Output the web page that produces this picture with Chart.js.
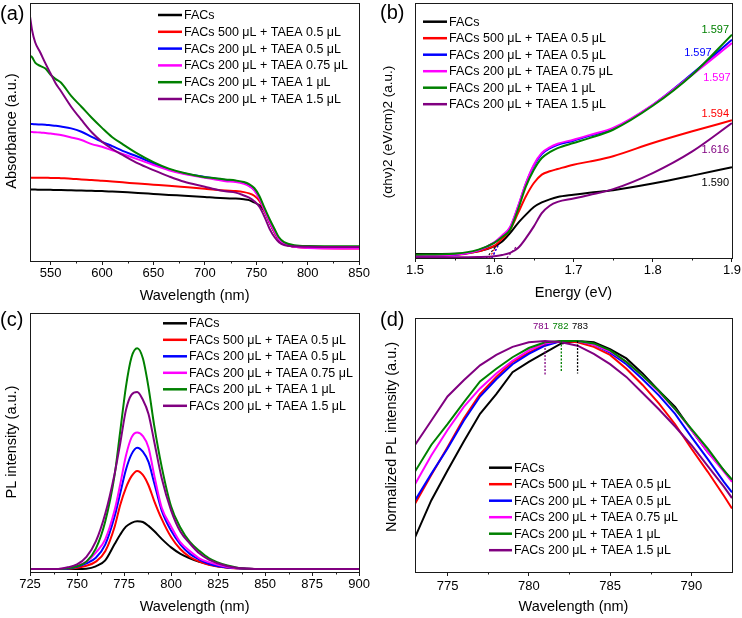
<!DOCTYPE html>
<html>
<head>
<meta charset="utf-8">
<script src="https://cdn.jsdelivr.net/npm/chart.js@4.4.1/dist/chart.umd.min.js"></script>
<style>
  body { margin: 0; background: #fff; }
  #fig { position: relative; width: 742px; height: 618px; }
  #fig canvas { position: absolute; }
</style>
</head>
<body>
<div id="fig">
  <canvas id="pa" width="371" height="309" style="left:0;top:0"></canvas>
  <canvas id="pb" width="371" height="309" style="left:371px;top:0"></canvas>
  <canvas id="pc" width="371" height="309" style="left:0;top:309px"></canvas>
  <canvas id="pd" width="371" height="309" style="left:371px;top:309px"></canvas>
</div>
<script>
// ---- series names and colours ----
const seriesNames = ['FACs', 'FACs 500 μL + TAEA 0.5 μL', 'FACs 200 μL + TAEA 0.5 μL',
  'FACs 200 μL + TAEA 0.75 μL', 'FACs 200 μL + TAEA 1 μL', 'FACs 200 μL + TAEA 1.5 μL'];
const seriesColors = ['#000000', '#ff0000', '#0000ff', '#ff00ff', '#008000', '#800080'];

// ---- (a) absorbance ----
const absWl = [530, 532, 535, 540, 545, 550, 555, 560, 570, 580, 590, 600, 610, 620, 635, 650, 665, 680, 700, 710, 720, 730, 738, 743, 748, 753, 758, 763, 768, 772, 777, 787, 800, 850];
const absFACs   = [27.7, 27.7, 27.7, 27.6, 27.6, 27.6, 27.5, 27.5, 27.4, 27.3, 27.2, 27.1, 26.9, 26.7, 26.4, 26.0, 25.6, 25.3, 24.8, 24.5, 24.3, 24.2, 23.9, 23.6, 22.7, 21.6, 19.3, 14.8, 10.9, 8.3, 6.6, 5.6, 5.4, 5.3];
const abs500_05 = [32.3, 32.3, 32.3, 32.3, 32.3, 32.2, 32.2, 32.1, 31.9, 31.6, 31.4, 31.1, 30.8, 30.5, 30.0, 29.6, 29.2, 28.7, 28.0, 27.6, 27.3, 27.1, 26.7, 26.2, 25.3, 23.3, 19.4, 15.0, 11.0, 8.3, 6.6, 5.5, 5.1, 4.8];
const abs200_05 = [53.1, 53.1, 53.0, 52.9, 52.8, 52.6, 52.4, 52.1, 51.4, 50.1, 48.1, 46.2, 44.5, 42.7, 40.4, 37.8, 35.5, 33.9, 32.6, 32.0, 31.4, 30.9, 30.2, 29.2, 27.6, 24.4, 20.0, 15.5, 11.6, 8.6, 6.8, 5.7, 5.4, 5.2];
const abs200_075 = [50.0, 50.0, 49.9, 49.8, 49.6, 49.4, 49.1, 48.8, 47.9, 46.9, 45.3, 44.3, 42.9, 41.5, 39.4, 37.2, 35.2, 33.7, 32.3, 31.6, 30.9, 30.6, 29.9, 29.0, 27.4, 24.2, 19.7, 15.1, 11.2, 8.5, 6.7, 5.5, 5.0, 4.8];
const abs200_1  = [79.5, 79.0, 76.9, 75.6, 74.6, 72.2, 70.5, 69.2, 64.0, 59.8, 55.5, 51.6, 48.0, 45.3, 41.5, 38.3, 35.8, 34.1, 32.5, 32.1, 31.6, 31.2, 30.6, 29.8, 28.3, 25.2, 20.6, 16.2, 12.2, 9.2, 7.3, 6.1, 5.8, 5.7];
const abs200_15 = [94.8, 89.5, 84.8, 80.8, 76.6, 72.7, 68.8, 65.9, 59.8, 54.7, 49.9, 46.2, 43.4, 41.1, 37.8, 35.2, 32.8, 30.7, 28.8, 27.8, 27.0, 26.5, 25.4, 24.6, 23.2, 21.0, 17.1, 12.4, 9.1, 7.3, 6.2, 5.7, 5.5, 5.4];
const absTicks = [550, 600, 650, 700, 750, 800, 850];
const absMinor = [575, 625, 675, 725, 775, 825];

// ---- (b) Tauc plot ----
const taucE = [1.5, 1.55, 1.58, 1.6, 1.61, 1.62, 1.63, 1.64, 1.65, 1.66, 1.67, 1.68, 1.7, 1.72, 1.75, 1.8, 1.85, 1.9];
const taucFACs   = [1.6, 1.7, 2.6, 4.6, 6.5, 9.8, 13.7, 17.0, 20.0, 21.8, 23.0, 23.9, 24.8, 25.6, 26.6, 29.2, 32.3, 35.6];
const tauc500_05 = [0.9, 1.2, 2.6, 4.8, 7.5, 11.1, 17.6, 24.2, 29.4, 32.7, 34.0, 34.9, 36.6, 37.8, 39.9, 45.1, 49.7, 54.0];
const tauc200_05 = [0.9, 1.2, 3.0, 6.0, 8.5, 11.9, 20.0, 29.2, 36.2, 40.8, 43.0, 44.4, 46.0, 47.9, 50.7, 60.0, 72.3, 85.6];
const tauc200_075 = [0.9, 1.3, 3.0, 6.1, 8.8, 12.2, 20.3, 29.4, 36.6, 41.2, 43.4, 44.8, 46.4, 48.2, 51.0, 60.1, 71.9, 84.3];
const tauc200_1  = [1.3, 1.7, 3.3, 5.9, 8.2, 11.1, 19.0, 28.1, 34.6, 39.2, 41.5, 43.1, 45.1, 47.0, 50.3, 59.7, 71.9, 87.6];
const tauc200_15 = [0.3, 0.3, 0.4, 0.7, 1.2, 2.0, 3.9, 7.8, 12.4, 17.6, 20.5, 22.0, 23.3, 24.7, 27.0, 33.3, 41.8, 52.9];
const taucGap = [1.590, 1.594, 1.597, 1.597, 1.597, 1.616];
const taucTangentEnd = [[1.602, 4.5], [1.604, 5.5], [1.607, 6.3], [1.607, 6.3], [1.607, 6.3], [1.628, 4.5]];
const taucGapLabels = [
  { text: '1.597', x: 1.8789, y: 89.5, color: '#008000' },
  { text: '1.597', x: 1.857, y: 80.4, color: '#0000ff' },
  { text: '1.597', x: 1.881, y: 70.6, color: '#ff00ff' },
  { text: '1.594', x: 1.879, y: 56.5, color: '#ff0000' },
  { text: '1.616', x: 1.879, y: 42.5, color: '#800080' },
  { text: '1.590', x: 1.879, y: 29.4, color: '#000000' }
];
const taucTicks = [1.5, 1.6, 1.7, 1.8, 1.9];
const taucMinor = [1.55, 1.65, 1.75, 1.85];

// ---- (c) PL ----
const plWl = [725, 740, 745, 750, 755, 760, 765, 770, 773, 776, 779, 782, 785, 788, 791, 795, 800, 805, 810, 815, 820, 830, 840, 850, 900];
const plFACs   = [1.2, 1.2, 1.2, 1.2, 1.3, 2.2, 4.5, 10.8, 14.5, 17.5, 19.0, 19.6, 19.3, 17.8, 15.8, 12.8, 9.5, 7.0, 5.3, 3.9, 3.0, 1.7, 1.3, 1.2, 1.2];
const pl500_05 = [1.2, 1.2, 1.2, 1.6, 2.4, 4.0, 8.0, 17.5, 26.0, 32.5, 37.0, 39.0, 37.5, 33.5, 27.5, 20.5, 13.5, 8.8, 5.8, 4.0, 2.8, 1.6, 1.3, 1.2, 1.2];
const pl200_05 = [1.2, 1.2, 1.3, 2.0, 3.3, 5.5, 10.6, 21.5, 30.5, 39.5, 45.5, 48.0, 46.5, 42.5, 34.5, 23.8, 16.0, 10.6, 7.0, 4.8, 3.2, 1.7, 1.3, 1.2, 1.2];
const pl200_075 = [1.2, 1.2, 1.5, 2.4, 4.0, 7.5, 12.6, 23.9, 34.0, 44.9, 52.0, 53.9, 52.5, 48.1, 37.5, 24.9, 17.6, 11.4, 8.1, 5.3, 3.8, 1.9, 1.3, 1.2, 1.2];
const pl200_1  = [1.2, 1.2, 1.4, 2.2, 4.0, 9.0, 19.5, 37.5, 54.5, 71.5, 83.0, 86.4, 82.5, 71.3, 56.7, 40.7, 25.4, 17.1, 11.6, 8.2, 5.4, 2.5, 1.3, 1.2, 1.2];
const pl200_15 = [1.2, 1.2, 1.8, 2.9, 5.8, 11.8, 22.5, 38.0, 49.8, 62.5, 68.5, 69.5, 66.5, 61.0, 50.5, 36.3, 23.8, 15.5, 11.0, 7.2, 4.8, 2.2, 1.3, 1.2, 1.2];
const plTicks = [725, 750, 775, 800, 825, 850, 875, 900];
const plMinor = [737.5, 762.5, 787.5, 812.5, 837.5, 862.5, 887.5];

// ---- (d) normalized PL ----
const npWl = [773, 774, 775, 776, 777, 778, 779, 780, 781, 782, 783, 784, 785, 786, 787, 788, 789, 790, 791, 792, 792.5];
const npFACs   = [0.830, 0.862, 0.888, 0.913, 0.937, 0.954, 0.973, 0.982, 0.990, 0.998, 1.000, 0.999, 0.993, 0.985, 0.972, 0.957, 0.943, 0.923, 0.904, 0.888, 0.879];
const np500_05 = [0.859, 0.884, 0.908, 0.933, 0.954, 0.969, 0.982, 0.990, 0.997, 1.000, 0.999, 0.995, 0.988, 0.976, 0.962, 0.946, 0.928, 0.907, 0.887, 0.866, 0.855];
const np200_05 = [0.862, 0.885, 0.907, 0.931, 0.952, 0.967, 0.980, 0.989, 0.996, 1.000, 1.000, 0.997, 0.990, 0.980, 0.967, 0.953, 0.937, 0.917, 0.898, 0.878, 0.869];
const np200_075 = [0.876, 0.901, 0.923, 0.943, 0.959, 0.972, 0.983, 0.992, 0.998, 1.000, 1.000, 0.997, 0.991, 0.982, 0.970, 0.956, 0.941, 0.923, 0.904, 0.887, 0.878];
const np200_1  = [0.887, 0.910, 0.928, 0.947, 0.965, 0.976, 0.986, 0.994, 0.999, 1.000, 1.000, 0.998, 0.992, 0.982, 0.970, 0.957, 0.941, 0.924, 0.907, 0.888, 0.880];
const np200_15 = [0.910, 0.931, 0.952, 0.966, 0.979, 0.988, 0.995, 0.999, 1.000, 0.999, 0.996, 0.989, 0.980, 0.969, 0.955, 0.941, 0.926, 0.910, 0.892, 0.874, 0.864];
const npPeaks = [{ wl: 781, low: 0.970, color: '#800080' }, { wl: 782, low: 0.973, color: '#008000' }, { wl: 783, low: 0.972, color: '#000000' }];
const npPeakLabels = [
  { text: '781', x: 780.75, y: 1.013, color: '#800080' },
  { text: '782', x: 781.95, y: 1.013, color: '#008000' },
  { text: '783', x: 783.15, y: 1.013, color: '#000000' }
];
const npTicks = [775, 780, 785, 790];
const npMinor = [777.5, 782.5, 787.5];

const FONT = '"Liberation Sans", Arial, sans-serif';
Chart.defaults.font.family = FONT;
Chart.defaults.color = '#000';

function pts(xs, ys) { return xs.map((x, i) => ({ x: x, y: ys[i] })); }

function curveSets(xs, list, smooth) {
  return list.map((ys, i) => ({
    label: seriesNames[i],
    data: pts(xs, ys),
    borderColor: seriesColors[i],
    borderWidth: 2,
    pointRadius: 0,
    fill: false,
    clip: 0,
    order: 10 - i,
    cubicInterpolationMode: smooth ? 'monotone' : 'default',
    tension: 0
  }));
}

// frame, minor ticks, panel letter, axis titles, legend and notes
const figurePlugin = {
  id: 'figure',
  afterDraw(chart, args, o) {
    const ctx = chart.ctx, a = chart.chartArea, xs = chart.scales.x, ys = chart.scales.y;
    ctx.save();
    ctx.strokeStyle = '#1a1a1a';
    ctx.lineWidth = 1;
    const l = Math.round(a.left) + 0.5, t = Math.round(a.top) + 0.5;
    ctx.strokeRect(l, t, Math.round(a.right) - Math.round(a.left), Math.round(a.bottom) - Math.round(a.top));
    ctx.beginPath();
    o.minor.forEach(v => {
      const px = Math.round(xs.getPixelForValue(v)) + 0.5;
      ctx.moveTo(px, Math.round(a.bottom));
      ctx.lineTo(px, Math.round(a.bottom) + 2.5);
    });
    ctx.stroke();

    ctx.fillStyle = '#000';
    ctx.textBaseline = 'middle';
    ctx.textAlign = 'left';
    ctx.font = '20px ' + FONT;
    ctx.fillText(o.letter[0], o.letter[1], o.letter[2]);

    ctx.textAlign = 'center';
    ctx.font = '14.5px ' + FONT;
    ctx.fillText(o.xTitle, (a.left + a.right) / 2, o.xTitleY);
    ctx.save();
    ctx.translate(o.yTitle[1], o.yTitle[2]);
    ctx.rotate(-Math.PI / 2);
    ctx.font = (o.yTitle[3] || 14.5) + 'px ' + FONT;
    ctx.fillText(o.yTitle[0], 0, 0);
    ctx.restore();

    // legend
    const lg = o.legend;
    ctx.textAlign = 'left';
    ctx.font = '12.5px ' + FONT;
    seriesNames.forEach((name, i) => {
      const y = lg.y + i * lg.step;
      ctx.strokeStyle = seriesColors[i];
      ctx.lineWidth = 2.5;
      ctx.beginPath();
      ctx.moveTo(lg.x, y);
      ctx.lineTo(lg.x + lg.len, y);
      ctx.stroke();
      ctx.fillStyle = '#000';
      ctx.fillText(name, lg.x + lg.len + 2, y + 0.5);
    });

    // value notes
    (o.notes || []).forEach(n => {
      ctx.fillStyle = n.color;
      ctx.textAlign = 'center';
      ctx.font = o.noteSize + 'px ' + FONT;
      ctx.fillText(n.text, xs.getPixelForValue(n.x), ys.getPixelForValue(n.y));
    });
    ctx.restore();
  }
};

function makeChart(id, cfg) {
  return new Chart(document.getElementById(id), {
    type: 'line',
    data: { datasets: cfg.datasets },
    plugins: [figurePlugin],
    options: {
      responsive: false,
      animation: false,
      devicePixelRatio: 1,
      layout: { padding: cfg.padding },
      scales: {
        x: {
          type: 'linear',
          min: cfg.xMin,
          max: cfg.xMax,
          afterBuildTicks: s => { s.ticks = cfg.ticks.map(v => ({ value: v })); },
          afterFit: s => { s.height = cfg.xHeight; },
          ticks: {
            autoSkip: false,
            maxRotation: 0,
            padding: cfg.tickPad,
            font: { size: 13 },
            color: '#000',
            callback: cfg.fmt
          },
          grid: { drawOnChartArea: false, tickLength: 4, color: '#1a1a1a', lineWidth: 1 },
          border: { display: false }
        },
        y: { display: false, min: cfg.yMin, max: cfg.yMax }
      },
      plugins: {
        legend: { display: false },
        tooltip: { enabled: false },
        figure: cfg.figure
      }
    }
  });
}

// (a)
makeChart('pa', {
  datasets: curveSets(absWl, [absFACs, abs500_05, abs200_05, abs200_075, abs200_1, abs200_15], true),
  padding: { left: 30, right: 11, top: 3, bottom: 0 },
  xHeight: 48, tickPad: 1,
  xMin: 530, xMax: 850, yMin: 0, yMax: 100,
  ticks: absTicks, fmt: v => String(v),
  figure: {
    minor: absMinor, letter: ['(a)', 0, 14],
    xTitle: 'Wavelength (nm)', xTitleY: 296,
    yTitle: ['Absorbance (a.u.)', 12, 131],
    legend: { x: 158, y: 15, step: 16.8, len: 24 }
  }
});

// (b)
const tangentSets = taucGap.map((g, i) => ({
  data: [{ x: g, y: 0 }, { x: taucTangentEnd[i][0], y: taucTangentEnd[i][1] }],
  borderColor: seriesColors[i], borderWidth: 1.2, borderDash: [2, 2],
  pointRadius: 0, fill: false, clip: 0, order: 20
}));
makeChart('pb', {
  datasets: curveSets(taucE, [taucFACs, tauc500_05, tauc200_05, tauc200_075, tauc200_1, tauc200_15], true).concat(tangentSets),
  padding: { left: 44, right: 10, top: 3, bottom: 0 },
  xHeight: 51, tickPad: 1,
  xMin: 1.5, xMax: 1.9, yMin: 0, yMax: 100,
  ticks: taucTicks, fmt: v => v.toFixed(1),
  figure: {
    minor: taucMinor, letter: ['(b)', 9, 13],
    xTitle: 'Energy (eV)', xTitleY: 293,
    yTitle: ['(αhν)2 (eV/cm)2 (a.u.)', 17, 132, 13.5],
    legend: { x: 52, y: 21.7, step: 16.5, len: 24 },
    notes: taucGapLabels, noteSize: 11
  }
});

// (c)
makeChart('pc', {
  datasets: curveSets(plWl, [plFACs, pl500_05, pl200_05, pl200_075, pl200_1, pl200_15], true),
  padding: { left: 30, right: 11, top: 4, bottom: 0 },
  xHeight: 46, tickPad: 1,
  xMin: 725, xMax: 900, yMin: 0, yMax: 100,
  ticks: plTicks, fmt: v => String(v),
  figure: {
    minor: plMinor, letter: ['(c)', 0, 11],
    xTitle: 'Wavelength (nm)', xTitleY: 298,
    yTitle: ['PL intensity (a.u.)', 12, 133],
    legend: { x: 163, y: 14.3, step: 16.5, len: 24 }
  }
});

// (d)
const peakSets = npPeaks.map(p => ({
  data: [{ x: p.wl, y: 1.0 }, { x: p.wl, y: p.low }],
  borderColor: p.color, borderWidth: 1.3, borderDash: [2, 1.5],
  pointRadius: 0, fill: false, clip: 0, order: 0
}));
makeChart('pd', {
  datasets: curveSets(npWl, [npFACs, np500_05, np200_05, np200_075, np200_1, np200_15], false).concat(peakSets),
  padding: { left: 44, right: 10, top: 9, bottom: 0 },
  xHeight: 46, tickPad: 3,
  xMin: 773, xMax: 792.5, yMin: 0.8, yMax: 1.02,
  ticks: npTicks, fmt: v => String(v),
  figure: {
    minor: npMinor, letter: ['(d)', 9, 11],
    xTitle: 'Wavelength (nm)', xTitleY: 298,
    yTitle: ['Normalized PL intensity (a.u.)', 21, 128],
    legend: { x: 118, y: 158.7, step: 16.5, len: 23 },
    notes: npPeakLabels, noteSize: 9.5
  }
});
</script>
</body>
</html>
